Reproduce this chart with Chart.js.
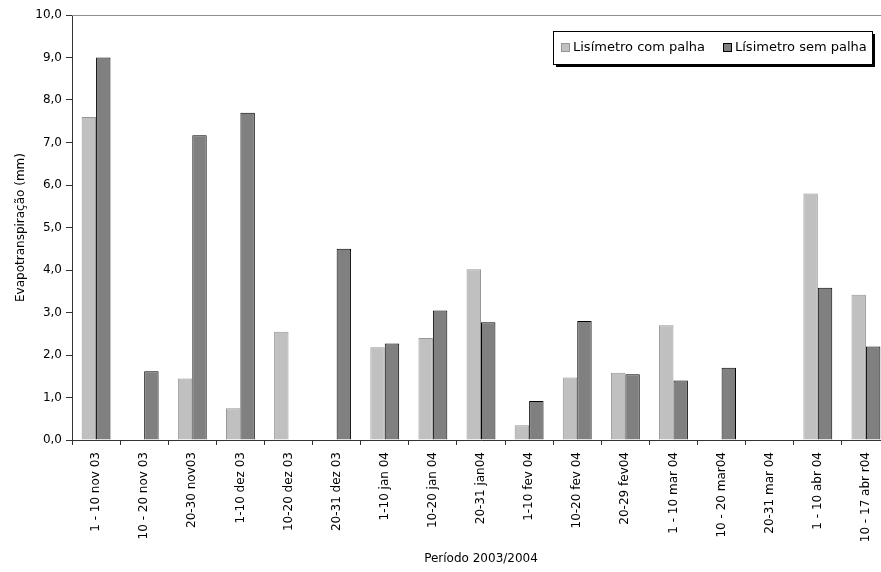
<!DOCTYPE html>
<html>
<head>
<meta charset="utf-8">
<script src="https://cdn.jsdelivr.net/npm/chart.js"></script>
<style>
  html, body { margin: 0; padding: 0; background: #fff; overflow: hidden; }
  #wrap { width: 890px; height: 572px; }
</style>
</head>
<body>
<div id="wrap"><canvas id="etChart" width="890" height="572"></canvas></div>
<script>
// Periodos (decendios) 2003/2004
const periodos = [
    '1 - 10 nov 03', '10 - 20 nov 03', '20-30 nov03', '1-10 dez 03', '10-20 dez 03',
    '20-31 dez 03', '1-10 jan 04', '10-20 jan 04', '20-31 jan04', '1-10 fev 04',
    '10-20 fev 04', '20-29 fev04', '1 - 10 mar 04', '10 - 20 mar04', '20-31 mar 04',
    '1 - 10 abr 04', '10 - 17 abr r04'
];

// Evapotranspiracao (mm)
const comPalha = [7.6, 0, 1.45, 0.75, 2.55, 0, 2.18, 2.4, 4.02, 0.35, 1.47, 1.58, 2.7, 0, 0, 5.8, 3.42];
const semPalha = [9.0, 1.62, 7.17, 7.7, 0, 4.5, 2.27, 3.05, 2.77, 0.92, 2.8, 1.55, 1.4, 1.7, 0, 3.58, 2.2];

const yTicks = [0, 1, 2, 3, 4, 5, 6, 7, 8, 9, 10];

const FONT = 'DejaVu Sans';

// Legenda com sombra, dentro da area do grafico
const legendBox = {
    id: 'legendBox',
    afterDraw(chart) {
        const c = chart.ctx;
        const x = 553, y = 31, w = 319, h = 33;
        c.save();
        c.fillStyle = '#000';
        c.fillRect(x + 3, y + 3, w, h);
        c.fillStyle = '#fff';
        c.fillRect(x, y, w, h);
        c.strokeStyle = '#000';
        c.lineWidth = 1;
        c.strokeRect(x + 0.5, y + 0.5, w, h);
        c.font = '13px "' + FONT + '"';
        c.textBaseline = 'middle';
        const items = [
            { ds: chart.data.datasets[0], sx: 561, tx: 573 },
            { ds: chart.data.datasets[1], sx: 723, tx: 735 }
        ];
        items.forEach(it => {
            c.fillStyle = it.ds.backgroundColor;
            c.fillRect(it.sx, y + 12, 8, 8);
            c.strokeStyle = it.ds.borderColor;
            c.strokeRect(it.sx + 0.5, y + 12.5, 8, 8);
            c.fillStyle = '#000';
            c.fillText(it.ds.label, it.tx, y + 17);
        });
        c.restore();
    }
};

// linha superior da area de plotagem
const topBorder = {
    id: 'topBorder',
    afterDatasetsDraw(chart) {
        const a = chart.chartArea;
        const c = chart.ctx;
        c.save();
        c.strokeStyle = '#909090';
        c.lineWidth = 1;
        c.beginPath();
        c.moveTo(a.left, a.top + 0.5);
        c.lineTo(a.right, a.top + 0.5);
        c.stroke();
        c.restore();
    }
};

new Chart(document.getElementById('etChart'), {
    type: 'bar',
    data: {
        labels: periodos,
        datasets: [{
            label: 'Lisímetro com palha',
            data: comPalha,
            backgroundColor: '#c0c0c0',
            borderColor: '#969696',
            borderWidth: 1,
            borderSkipped: 'bottom'
        }, {
            label: 'Lísimetro sem palha',
            data: semPalha,
            backgroundColor: '#808080',
            borderColor: '#000000',
            borderWidth: 1,
            borderSkipped: 'bottom'
        }]
    },
    options: {
        responsive: false,
        animation: false,
        layout: { padding: { top: 15, left: 0, right: 0, bottom: 0 } },
        datasets: { bar: { categoryPercentage: 0.6, barPercentage: 1.0 } },
        plugins: {
            legend: { display: false },
            tooltip: { enabled: false }
        },
        scales: {
            x: {
                grid: { display: true, offset: true, drawOnChartArea: false, tickLength: 5, color: '#333' },
                border: { display: true, color: '#333' },
                ticks: {
                    font: { family: FONT, size: 12 },
                    color: '#000',
                    minRotation: 90,
                    maxRotation: 90,
                    autoSkip: false,
                    padding: 7
                },
                title: {
                    display: true,
                    text: 'Período 2003/2004',
                    font: { family: FONT, size: 12 },
                    color: '#000',
                    padding: { top: 0, bottom: 6 }
                },
                afterFit(scale) { scale.height = 132; }
            },
            y: {
                min: 0,
                max: 10,
                afterBuildTicks(scale) { scale.ticks = yTicks.map(v => ({ value: v })); },
                grid: { display: true, drawOnChartArea: false, tickLength: 6, color: '#333' },
                border: { display: true, color: '#333' },
                ticks: {
                    font: { family: FONT, size: 12 },
                    color: '#000',
                    padding: 4,
                    callback: v => v.toFixed(1).replace('.', ',')
                },
                title: {
                    display: true,
                    text: 'Evapotranspiração (mm)',
                    font: { family: FONT, size: 12 },
                    color: '#000',
                    padding: { top: 14, bottom: 4 }
                },
                afterFit(scale) { scale.width = 72; }
            }
        }
    },
    plugins: [topBorder, legendBox]
});
</script>
</body>
</html>
